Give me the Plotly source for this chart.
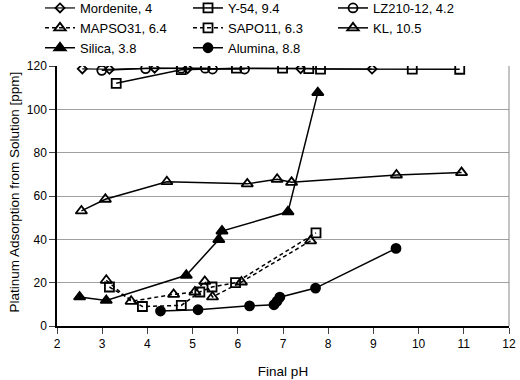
import plotly.graph_objects as go

mord_x = [2.56, 3.16, 4.16, 4.89, 7.39, 8.97]
mord_y = [118.7, 118.5, 119.0, 118.8, 118.8, 118.6]
y54_x = [3.31, 4.75, 5.97, 6.99, 7.57, 7.83, 9.86, 10.91]
y54_y = [112.0, 118.3, 119.0, 119.0, 118.8, 118.6, 118.6, 118.5]
lz_x = [2.99, 3.96, 4.75, 5.28, 5.44, 6.15]
lz_y = [118.0, 118.8, 119.0, 119.0, 118.6, 118.6]
mapso_x = [3.09, 3.64, 4.58, 5.05, 5.27, 5.44, 6.08, 7.61]
mapso_y = [21.1, 11.4, 14.6, 15.7, 20.6, 13.4, 20.3, 39.3]
sapo_x = [3.16, 3.89, 4.75, 5.16, 5.43, 5.95, 7.73]
sapo_y = [18.0, 9.0, 9.5, 15.7, 18.0, 20.0, 43.0]
kl_x = [2.54, 3.07, 4.43, 6.21, 6.87, 7.19, 9.51, 10.95]
kl_y = [53.1, 58.5, 66.6, 65.6, 67.7, 66.3, 69.7, 70.8]
sil_x = [2.50, 3.09, 4.86, 5.58, 5.65, 7.11, 7.77]
sil_y = [13.4, 11.8, 23.4, 39.9, 43.8, 52.7, 107.7]
alu_x = [4.29, 5.12, 6.26, 6.80, 6.87, 6.93, 7.72, 9.50]
alu_y = [6.9, 7.5, 9.3, 9.8, 11.5, 13.3, 17.5, 35.8]

x_ticks = [2, 3, 4, 5, 6, 7, 8, 9, 10, 11, 12]
y_ticks = [0, 20, 40, 60, 80, 100, 120]
x_title = "Final pH"
y_title = "Platinum Adsorption from Solution [ppm]"

FONT = "Liberation Sans, Arial, sans-serif"
DASH = "4px,3px"

# name, x, y, symbol, size, dash, width, legend column
series = [
    ("Mordenite, 4", mord_x, mord_y, "diamond-open", 7, "solid", 1.2, "legend"),
    ("Y-54, 9.4", y54_x, y54_y, "square-open", 9, "solid", 1.5, "legend2"),
    ("LZ210-12, 4.2", lz_x, lz_y, "circle-open", 9, "solid", 1.5, "legend3"),
    ("MAPSO31, 6.4", mapso_x, mapso_y, "triangle-up-open", 10, DASH, 1.5, "legend"),
    ("SAPO11, 6.3", sapo_x, sapo_y, "square-open", 9, DASH, 1.5, "legend2"),
    ("KL, 10.5", kl_x, kl_y, "triangle-up-open", 10, "solid", 1.5, "legend3"),
    ("Silica, 3.8", sil_x, sil_y, "triangle-up", 10, "solid", 1.5, "legend"),
    ("Alumina, 8.8", alu_x, alu_y, "circle", 9, "solid", 1.5, "legend2"),
]

fig = go.Figure()
for name, xs, ys, sym, size, dash, lw, lg in series:
    fig.add_trace(go.Scatter(
        x=xs, y=ys, name=name, mode="lines+markers", legend=lg,
        line=dict(color="black", width=lw, dash=dash),
        marker=dict(symbol=sym, size=size, color="black",
                    line=dict(color="black", width=1.8)),
    ))

W, H = 520, 380
ML, MR, MT, MB = 57, 11, 66, 54
PW = W - ML - MR
PH = H - MT - MB


def legend_at(left_px):
    return dict(
        orientation="v", xref="container", x=left_px / W, xanchor="left",
        yref="paper", y=1 + (MT + 7) / PH, yanchor="top",
        font=dict(family=FONT, size=13, color="black"),
        bgcolor="rgba(0,0,0,0)", tracegroupgap=0,
    )


fig.update_layout(
    width=W, height=H,
    margin=dict(l=ML, r=MR, t=MT, b=MB, autoexpand=False),
    paper_bgcolor="white", plot_bgcolor="white",
    font=dict(family=FONT, size=12, color="black"),
    showlegend=True,
    legend=legend_at(40),
    legend2=legend_at(188),
    legend3=legend_at(333),
    xaxis=dict(
        range=[2, 12], tickvals=x_ticks, ticks="outside", ticklen=6,
        showline=True, linecolor="black", linewidth=1.5, mirror=False,
        showgrid=False, zeroline=False,
        title=dict(text=x_title, font=dict(size=13.5), standoff=16),
        tickfont=dict(size=12),
    ),
    yaxis=dict(
        range=[0, 120], tickvals=y_ticks, ticks="outside", ticklen=6,
        showline=True, linecolor="black", linewidth=1.5,
        showgrid=True, gridcolor="#a0a0a0", gridwidth=1,
        zeroline=False,
        tickfont=dict(size=12),
    ),
    annotations=[dict(
        text=y_title, textangle=-90, showarrow=False,
        xref="paper", yref="paper",
        x=(14 - ML) / PW, y=(325.5 - 192) / PH,
        xanchor="center", yanchor="middle",
        font=dict(family=FONT, size=13.5, color="black"),
    )],
    shapes=[dict(type="line", xref="paper", yref="paper", x0=1, x1=1,
                 y0=0, y1=1, line=dict(color="#888", width=1))],
)

fig.write_html(
    "out.html", config={"displayModeBar": False},
    post_script="document.body.style.margin='0';",
)
